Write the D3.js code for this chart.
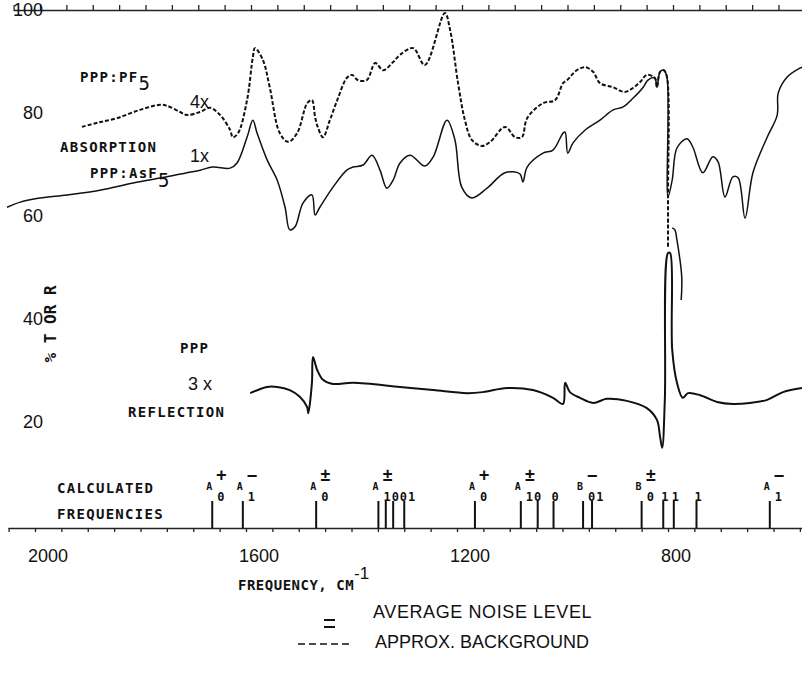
<!DOCTYPE html>
<html>
<head>
<meta charset="utf-8">
<script src="https://cdn.jsdelivr.net/npm/d3@7"></script>
<style>
  body { margin: 0; background: #fff; }
  svg { display: block; }
  .mono { font-family: "DejaVu Sans Mono", "Liberation Mono", monospace; font-weight: bold; fill: #111; }
  .sans { font-family: "Liberation Sans", "DejaVu Sans", sans-serif; fill: #111; }
</style>
</head>
<body>
<svg width="802" height="677"></svg>
<script>
// PPP:PF5 absorption, 4x (dashed), [cm-1, %]
const pf5 = [
  [1911,77.3],[1882,78.1],[1845,79.0],[1801,80.6],[1763,81.6],[1750,81.4],[1725,80.2],[1712,79.6],
  [1687,80.2],[1668,81.0],[1649,79.6],[1630,76.7],[1625,75.3],[1615,76.1],[1598,82.5],[1587,90.9],
  [1583,92.6],[1568,90.3],[1555,85.0],[1536,76.1],[1520,74.4],[1503,76.1],[1484,81.9],[1475,82.5],
  [1469,79.2],[1464,77.3],[1454,75.3],[1441,78.6],[1427,82.5],[1409,86.8],[1399,87.4],[1388,86.4],
  [1371,86.4],[1355,89.7],[1340,88.3],[1321,89.9],[1308,91.3],[1283,92.6],[1261,89.3],[1223,99.4],
  [1213,96.1],[1198,85.8],[1185,78.6],[1172,74.8],[1153,73.6],[1137,74.4],[1109,77.3],[1090,75.3],
  [1077,75.3],[1067,79.0],[1037,81.9],[1014,82.5],[999,85.8],[991,86.4],[973,88.3],[957,88.9],
  [942,88.0],[929,85.8],[904,85.0],[882,84.1],[866,84.9],[853,86.0],[840,87.4],[825,86.8],
  [821,85.0],[815,88.0],[808,88.3],[802,87.0],[800,63.7],[800,54.0]
];

// PPP:AsF5 absorption, 1x (solid)
const asf5 = [
  [2053,61.7],[2028,62.7],[1991,63.5],[1939,64.1],[1877,65.0],[1814,66.4],[1750,67.6],[1712,68.4],
  [1687,68.9],[1663,69.5],[1630,69.3],[1617,70.3],[1598,75.3],[1587,78.6],[1579,76.1],[1560,70.9],
  [1541,67.0],[1526,61.7],[1517,57.3],[1507,57.9],[1492,62.5],[1475,64.1],[1469,60.2],[1460,61.7],
  [1435,65.6],[1409,68.9],[1397,69.5],[1378,69.9],[1361,71.8],[1346,68.9],[1333,65.4],[1321,67.0],
  [1308,70.3],[1289,71.8],[1261,69.7],[1245,71.5],[1219,78.6],[1204,74.8],[1191,65.6],[1172,63.5],
  [1143,65.4],[1109,68.4],[1081,68.2],[1075,66.6],[1067,69.5],[1037,72.2],[1018,72.8],[999,76.1],
  [995,76.3],[990,72.2],[980,74.2],[957,76.7],[929,78.6],[904,80.6],[885,81.2],[866,82.9],
  [847,85.0],[838,86.4],[825,86.8],[821,85.0],[815,88.0],[808,88.3],[802,87.0],[800,63.7],
  [792,67.0],[783,73.2],[764,75.0],[753,73.4],[734,68.4],[715,71.5],[705,70.5],[692,63.7],
  [677,67.6],[667,67.4],[654,59.6],[639,68.4],[612,75.3],[593,79.6],[591,83.9],[574,87.0],
  [550,88.7],[546,88.9]
];

// short trace piece near 790 cm-1
const asf5Tail = [[792,57.7],[787,57.3],[783,55.3],[774,48.2],[775,43.7]];

// PPP reflection, 3x
const ppp = [
  [1592,25.6],[1560,26.8],[1541,26.8],[1517,26.2],[1498,24.9],[1484,22.9],[1482,21.7],[1475,27.6],
  [1473,32.6],[1465,30.1],[1454,28.2],[1435,27.4],[1397,27.6],[1308,26.8],[1245,26.2],[1181,25.6],
  [1151,25.8],[1105,26.6],[1056,26.2],[1018,24.7],[999,23.5],[995,27.6],[986,25.8],[967,24.7],
  [942,23.7],[916,24.5],[878,24.1],[840,22.7],[821,20.4],[815,17.1],[811,15.0],[806,24.3],
  [800,52.8],[796,52.8],[792,34.0],[783,27.6],[772,24.7],[762,25.6],[739,25.2],[707,23.9],
  [677,23.5],[645,23.7],[612,24.3],[582,25.8],[546,26.6]
];

// calculated frequencies (cm-1)
const calcFreqs = [1664,1606,1467,1349,1335,1321,1300,1166,1079,1047,1017,961,944,850,809,789,746,607];

// labels over the calculated frequencies
const labFreq = [1664,1606,1467,1349,1166,1079,1017,961,850,809,789,746,607];
const labMain = ["A","A","A","A","A","A","","B","B","","","","A"];
const labSub  = ["0","1","0","1001","0","10","0","01","0","1","1","1","1"];
const labTop  = ["+","\u2212","\u00b1","\u00b1","+","\u00b1","","\u2212","\u00b1","","","","\u2212"];

const xTicks = [2000,1600,1200,800];
const yTicks = [100,80,60,40,20];

const svg = d3.select("svg");

const x = d3.scaleLinear().domain([2000, 800]).range([35, 668]);
const xFull = x.copy().domain([x.invert(8), x.invert(802)]).range([8, 802]);
const y = d3.scaleLinear().domain([100, 20]).range([10, 422]);

const minor = d3.range(550, 2051, 50);

// top axis
const topAxis = svg.append("g")
  .attr("transform", "translate(5,10)")
  .call(d3.axisTop(xFull).tickValues(minor).tickSize(5).tickSizeOuter(0).tickFormat(""));
topAxis.selectAll("path, line").attr("stroke", "#222").attr("stroke-width", 1.3);

// bottom axis
const baseY = 528;
const bottomAxis = svg.append("g")
  .attr("transform", `translate(0,${baseY})`)
  .call(d3.axisBottom(xFull).tickValues(minor).tickSize(4).tickSizeOuter(0).tickFormat(""));
bottomAxis.selectAll("path, line").attr("stroke", "#222").attr("stroke-width", 1.3);

svg.append("g").selectAll("text")
  .data(xTicks).enter().append("text")
  .attr("class", "sans")
  .attr("x", d => x(d) - 7)
  .attr("y", 562)
  .attr("font-size", 18)
  .text(d => d);

// y labels (no axis line in the original)
svg.append("g").selectAll("text")
  .data(yTicks).enter().append("text")
  .attr("class", "sans")
  .attr("x", 43)
  .attr("y", d => y(d) + 6)
  .attr("text-anchor", "end")
  .attr("font-size", 18)
  .text(d => d);

svg.append("text")
  .attr("class", "mono")
  .attr("transform", "translate(56,324) rotate(-90)")
  .attr("text-anchor", "middle")
  .attr("font-size", 16)
  .text("% T OR R");

// spectra
const line = d3.line()
  .x(d => xFull(d[0]))
  .y(d => y(d[1]))
  .curve(d3.curveCatmullRom.alpha(0.5));

svg.append("path").datum(asf5)
  .attr("d", line).attr("fill", "none").attr("stroke", "#111").attr("stroke-width", 1.5);
svg.append("path").datum(asf5Tail)
  .attr("d", line).attr("fill", "none").attr("stroke", "#111").attr("stroke-width", 1.5);
svg.append("path").datum(pf5)
  .attr("d", line).attr("fill", "none").attr("stroke", "#111").attr("stroke-width", 2)
  .attr("stroke-dasharray", "4,2");
svg.append("path").datum(ppp)
  .attr("d", line).attr("fill", "none").attr("stroke", "#111").attr("stroke-width", 2);

// calculated frequency sticks
svg.append("g").selectAll("line")
  .data(calcFreqs).enter().append("line")
  .attr("x1", d => xFull(d)).attr("x2", d => xFull(d))
  .attr("y1", baseY).attr("y2", baseY - 27)
  .attr("stroke", "#111").attr("stroke-width", 2);

const lab = svg.append("g").selectAll("g")
  .data(labFreq).enter().append("g")
  .attr("transform", d => `translate(${xFull(d)},0)`);

lab.append("text").attr("class", "mono")
  .attr("x", -3).attr("y", 490).attr("text-anchor", "middle").attr("font-size", 10)
  .text((d, i) => labMain[i]);
lab.append("text").attr("class", "mono")
  .attr("x", (d, i) => labMain[i] ? 5 : -2).attr("y", 501).attr("font-size", 12)
  .attr("font-weight", "normal").attr("letter-spacing", 1)
  .text((d, i) => labSub[i]);
lab.append("text").attr("class", "mono")
  .attr("x", 4).attr("y", 481).attr("font-size", 17)
  .text((d, i) => labTop[i]);

// text annotations
function mono(t, px, py, size) {
  return svg.append("text").attr("class", "mono")
    .attr("x", px).attr("y", py).attr("font-size", size || 14)
    .attr("letter-spacing", 1.3).text(t);
}
function sans(t, px, py, size) {
  return svg.append("text").attr("class", "sans")
    .attr("x", px).attr("y", py).attr("font-size", size || 18).text(t);
}

const pf5Lab = mono("PPP:PF", 80, 82);
pf5Lab.append("tspan").attr("dy", 8).attr("font-size", 19).attr("font-weight", "normal").text("5");
sans("4x", 190, 108);
mono("ABSORPTION", 60, 152);
sans("1x", 190, 162);
const asLab = mono("PPP:AsF", 90, 178);
asLab.append("tspan").attr("dy", 9).attr("font-size", 19).attr("font-weight", "normal").text("5");
mono("PPP", 180, 353);
sans("3 x", 188, 390);
mono("REFLECTION", 128, 417);
mono("CALCULATED", 57, 493);
mono("FREQUENCIES", 57, 519);

const fLab = mono("FREQUENCY, CM", 238, 590, 14).attr("letter-spacing", 0.5);
fLab.append("tspan").attr("class", "sans").attr("font-weight", "normal")
  .attr("font-size", 17).attr("dy", -11).attr("letter-spacing", 0).text("-1");

// legend
svg.append("line").attr("x1", 324).attr("x2", 335).attr("y1", 620).attr("y2", 620)
  .attr("stroke", "#111").attr("stroke-width", 2);
svg.append("line").attr("x1", 324).attr("x2", 335).attr("y1", 627).attr("y2", 627)
  .attr("stroke", "#111").attr("stroke-width", 2);
sans("AVERAGE NOISE LEVEL", 373, 618, 18).attr("letter-spacing", 0.6);
svg.append("line").attr("x1", 298).attr("x2", 352).attr("y1", 644).attr("y2", 644)
  .attr("stroke", "#111").attr("stroke-width", 1.5).attr("stroke-dasharray", "7,4");
sans("APPROX. BACKGROUND", 375, 648, 18);
</script>
</body>
</html>
